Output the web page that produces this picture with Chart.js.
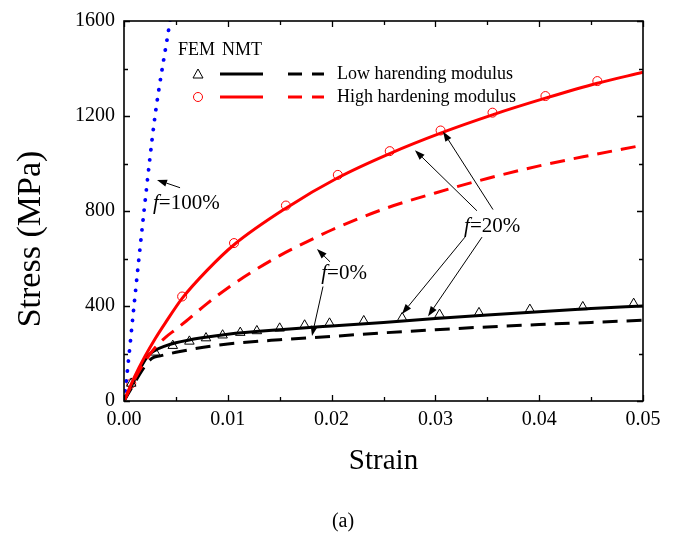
<!DOCTYPE html>
<html>
<head>
<meta charset="utf-8">
<script src="https://cdn.jsdelivr.net/npm/chart.js@4.4.1/dist/chart.umd.min.js"></script>
<style>
  html, body { margin: 0; padding: 0; background: #ffffff; }
  #wrap { width: 685px; height: 543px; position: relative; }
</style>
</head>
<body>
<div id="wrap"><canvas id="c" width="685" height="543"></canvas></div>
<script>
// ---------- data ----------
const xTicks = [0, 0.01, 0.02, 0.03, 0.04, 0.05];
const yTicks = [0, 400, 800, 1200, 1600];
const xTickLabels = ['0.00', '0.01', '0.02', '0.03', '0.04', '0.05'];
const yTickLabels = ['0', '400', '800', '1200', '1600'];

// NMT, f = 100% (blue dotted)
const f100Strain = [0, 0.0003, 0.00096, 0.00193, 0.00299, 0.00443, 0.0047];
const f100Stress = [0, 116, 400, 800, 1200, 1600, 1680];

// NMT, high hardening modulus, f = 20% (red solid)
const highF20Strain = [0, 0.001, 0.002, 0.003, 0.004, 0.0056, 0.008, 0.0106, 0.0156, 0.0206, 0.0256, 0.0305, 0.0355, 0.0406, 0.0456, 0.05];
const highF20Stress = [0, 100, 186, 262, 330, 432, 550, 658, 812, 940, 1042, 1128, 1205, 1275, 1338, 1384];

// NMT, high hardening modulus, f = 0% (red dashed)
const highF0Strain = [0, 0.001, 0.002, 0.003, 0.004, 0.005, 0.006, 0.008, 0.010, 0.0125, 0.015, 0.0175, 0.02, 0.025, 0.03, 0.035, 0.04, 0.045, 0.0495];
const highF0Stress = [0, 90, 165, 225, 268, 302, 337, 410, 476, 548, 612, 668, 720, 808, 876, 937, 990, 1035, 1073];

// NMT, low hardening modulus, f = 20% (black solid)
const lowF20Strain = [0, 0.0023, 0.003, 0.004, 0.005, 0.0075, 0.01, 0.015, 0.02, 0.025, 0.03, 0.035, 0.04, 0.045, 0.05];
const lowF20Stress = [0, 190, 213, 232, 245, 266, 281, 300, 316, 331, 347, 362, 376, 389, 400];

// NMT, low hardening modulus, f = 0% (black dashed)
const lowF0Strain = [0, 0.001, 0.002, 0.0027, 0.0035, 0.005, 0.0075, 0.01, 0.015, 0.02, 0.025, 0.03, 0.035, 0.04, 0.045, 0.05];
const lowF0Stress = [0, 75, 145, 180, 190, 205, 225, 240, 258, 272, 287, 300, 312, 322, 331, 340];

// FEM, low hardening modulus (triangles)
const femLowStrain = [0.0007, 0.0030, 0.0047, 0.0063, 0.0079, 0.0095, 0.0112, 0.0128, 0.0150, 0.0174, 0.0198, 0.0231, 0.0268, 0.0304, 0.0342, 0.0391, 0.0442, 0.0491];
const femLowStress = [74, 205, 233, 251, 265, 277, 288, 295, 306, 319, 327, 337, 350, 364, 371, 385, 396, 410];

// FEM, high hardening modulus (circles)
const femHighStrain = [0.0007, 0.0056, 0.0106, 0.0156, 0.0206, 0.0256, 0.0305, 0.0355, 0.0406, 0.0456];
const femHighStress = [74, 440, 665, 823, 952, 1052, 1139, 1214, 1284, 1347];

// legend labels
const legendHeader = ['FEM', 'NMT'];
const legendLabels = ['Low harending modulus', 'High hardening modulus'];

// annotation labels (text after italic f) and anchor points in data units
const noteTexts = ['=100%', '=0%', '=20%'];
const noteAnchorStrain = [0.00279, 0.0190, 0.03276];
const noteAnchorStress = [833, 536, 736];
// arrows: tail strain, tail stress, head strain, head stress
const arrowTailStrain = [0.0054, 0.01985, 0.01917, 0.0340, 0.03555, 0.03285, 0.03449];
const arrowTailStress = [898, 586, 482, 801, 806, 690, 690];
const arrowHeadStrain = [0.00318, 0.01859, 0.01811, 0.02803, 0.03073, 0.02678, 0.02929];
const arrowHeadStress = [931, 640, 274, 1056, 1135, 366, 357];

// ---------- helpers ----------
function pts(xs, ys) { return xs.map((x, i) => ({ x: x, y: ys[i] })); }
const SERIF = '"Liberation Serif", "Times New Roman", serif';
const RED = '#ff0000';
const BLUE = '#0000ff';

function lineDs(xs, ys, color, dash, width, extra) {
  return Object.assign({
    type: 'scatter', data: pts(xs, ys), showLine: true,
    borderColor: color, backgroundColor: color, borderWidth: width,
    borderDash: dash, pointRadius: 0, pointHoverRadius: 0,
    cubicInterpolationMode: 'monotone', fill: false
  }, extra || {});
}

function drawArrow(ctx, x1, y1, x2, y2) {
  const ang = Math.atan2(y2 - y1, x2 - x1);
  const L = 10, W = 3.5;
  const bx = x2 - L * Math.cos(ang), by = y2 - L * Math.sin(ang);
  ctx.beginPath();
  ctx.moveTo(x1, y1); ctx.lineTo(bx, by);
  ctx.strokeStyle = '#000'; ctx.lineWidth = 1; ctx.stroke();
  ctx.beginPath();
  ctx.moveTo(x2, y2);
  ctx.lineTo(bx + W * Math.sin(ang), by - W * Math.cos(ang));
  ctx.lineTo(bx - W * Math.sin(ang), by + W * Math.cos(ang));
  ctx.closePath(); ctx.fillStyle = '#000'; ctx.fill();
}

const decor = {
  id: 'decor',
  afterDraw(chart) {
    const ctx = chart.ctx, a = chart.chartArea;
    const xs = chart.scales.x, ys = chart.scales.y;
    ctx.save();
    // frame
    ctx.strokeStyle = '#000'; ctx.lineWidth = 1.6; ctx.setLineDash([]);
    ctx.strokeRect(a.left, a.top, a.right - a.left, a.bottom - a.top);
    // inward ticks (major + minor)
    ctx.lineWidth = 1.3;
    for (let v = 0; v <= 0.05 + 1e-9; v += 0.005) {
      const major = Math.abs(v / 0.01 - Math.round(v / 0.01)) < 1e-6;
      const len = major ? 6 : 4;
      const px = Math.round(xs.getPixelForValue(v)) + 0.5;
      ctx.beginPath();
      ctx.moveTo(px, a.bottom); ctx.lineTo(px, a.bottom - len);
      ctx.moveTo(px, a.top); ctx.lineTo(px, a.top + len);
      ctx.stroke();
    }
    for (let v = 0; v <= 1600; v += 200) {
      const len = (v % 400 === 0) ? 6 : 4;
      const py = Math.round(ys.getPixelForValue(v)) + 0.5;
      ctx.beginPath();
      ctx.moveTo(a.left, py); ctx.lineTo(a.left + len, py);
      ctx.moveTo(a.right, py); ctx.lineTo(a.right - len, py);
      ctx.stroke();
    }
    // axis titles
    ctx.fillStyle = '#000';
    ctx.font = '29px ' + SERIF;
    ctx.textAlign = 'center'; ctx.textBaseline = 'middle';
    ctx.fillText('Strain', (a.left + a.right) / 2, 461);
    ctx.save();
    ctx.translate(31, 239); ctx.rotate(-Math.PI / 2);
    ctx.font = '34px ' + SERIF;
    ctx.fillText('Stress (MPa)', 0, 0);
    ctx.restore();
    ctx.font = '20px ' + SERIF;
    ctx.fillText('(a)', 343, 522);

    // annotations
    for (let i = 0; i < noteTexts.length; i++) {
      const px = xs.getPixelForValue(noteAnchorStrain[i]);
      const py = ys.getPixelForValue(noteAnchorStress[i]);
      ctx.textAlign = 'left'; ctx.textBaseline = 'middle';
      ctx.font = 'italic 21px ' + SERIF;
      ctx.fillText('f', px, py);
      const fw = ctx.measureText('f').width;
      ctx.font = '21px ' + SERIF;
      ctx.fillText(noteTexts[i], px + fw, py);
    }
    for (let i = 0; i < arrowTailStrain.length; i++) {
      drawArrow(ctx,
        xs.getPixelForValue(arrowTailStrain[i]), ys.getPixelForValue(arrowTailStress[i]),
        xs.getPixelForValue(arrowHeadStrain[i]), ys.getPixelForValue(arrowHeadStress[i]));
    }

    // legend
    const lx = a.left, ty = a.top;
    ctx.font = '18px ' + SERIF; ctx.textBaseline = 'middle'; ctx.textAlign = 'left';
    ctx.fillText(legendHeader[0], lx + 54, ty + 29);
    ctx.fillText(legendHeader[1], lx + 98, ty + 29);
    const rows = [
      { y: ty + 53, color: '#000', marker: 'tri' },
      { y: ty + 76, color: RED, marker: 'circ' }
    ];
    rows.forEach((r, i) => {
      ctx.strokeStyle = r.color; ctx.lineWidth = 1;
      const mx = lx + 74;
      ctx.beginPath();
      if (r.marker === 'tri') {
        ctx.moveTo(mx, r.y - 5); ctx.lineTo(mx + 5, r.y + 4); ctx.lineTo(mx - 5, r.y + 4); ctx.closePath();
      } else {
        ctx.arc(mx, r.y, 4.5, 0, Math.PI * 2);
      }
      ctx.stroke();
      ctx.lineWidth = 3;
      ctx.beginPath(); ctx.moveTo(lx + 96, r.y); ctx.lineTo(lx + 139, r.y); ctx.stroke();
      ctx.beginPath(); ctx.moveTo(lx + 164, r.y); ctx.lineTo(lx + 178, r.y);
      ctx.moveTo(lx + 188, r.y); ctx.lineTo(lx + 200, r.y); ctx.stroke();
      ctx.fillStyle = '#000';
      ctx.fillText(legendLabels[i], lx + 213, r.y);
    });
    ctx.restore();
  }
};

const chart = new Chart(document.getElementById('c'), {
  type: 'scatter',
  data: {
    datasets: [
      lineDs(highF0Strain, highF0Stress, RED, [15, 9], 3),
      lineDs(highF20Strain, highF20Stress, RED, [], 3),
      lineDs(lowF0Strain, lowF0Stress, '#000', [15, 9], 3),
      lineDs(lowF20Strain, lowF20Stress, '#000', [], 3),
      lineDs(f100Strain, f100Stress, BLUE, [0.1, 10], 3.8, { borderCapStyle: 'round' }),
      { type: 'scatter', data: pts(femLowStrain, femLowStress), showLine: false,
        pointStyle: 'triangle', pointRadius: 5.5, borderColor: '#000', borderWidth: 1,
        backgroundColor: 'rgba(0,0,0,0)' },
      { type: 'scatter', data: pts(femHighStrain, femHighStress), showLine: false,
        pointStyle: 'circle', pointRadius: 4.5, borderColor: RED, borderWidth: 1,
        backgroundColor: 'rgba(0,0,0,0)' }
    ]
  },
  options: {
    responsive: false, animation: false, devicePixelRatio: 1,
    layout: { padding: { top: 16, right: 42, left: 0, bottom: 0 } },
    plugins: { legend: { display: false }, tooltip: { enabled: false } },
    events: [],
    scales: {
      x: {
        type: 'linear', min: 0, max: 0.05,
        grid: { display: false, drawTicks: false }, border: { display: false },
        afterBuildTicks: s => { s.ticks = xTicks.map(v => ({ value: v })); },
        afterFit: s => { s.height = 142; },
        ticks: { padding: 7, color: '#000', font: { family: SERIF, size: 20 },
          maxRotation: 0, autoSkip: false,
          callback: (v) => xTickLabels[xTicks.findIndex(t => Math.abs(t - v) < 1e-9)] }
      },
      y: {
        type: 'linear', min: 0, max: 1600,
        grid: { display: false, drawTicks: false }, border: { display: false },
        afterBuildTicks: s => { s.ticks = yTicks.map(v => ({ value: v })); },
        afterFit: s => { s.width = 124; },
        ticks: { padding: 9, color: '#000', font: { family: SERIF, size: 20 },
          autoSkip: false,
          callback: (v) => yTickLabels[yTicks.indexOf(v)] }
      }
    }
  },
  plugins: [decor]
});
</script>
</body>
</html>
